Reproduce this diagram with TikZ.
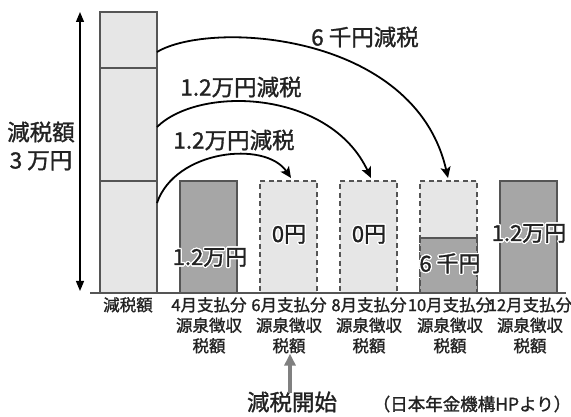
\documentclass[tikz,border=0pt]{standalone}
\usepackage{fontspec}
\usepackage[copies]{contour}
\contourlength{1.2pt}
\contournumber{24}
\setmainfont{Noto Sans CJK JP}
\newfontfamily\medfont{Noto Sans CJK JP}[FakeBold=1.3]
\usetikzlibrary{arrows.meta}
\definecolor{lightfill}{HTML}{E6E6E6}
\definecolor{darkfill}{HTML}{A6A6A6}
\definecolor{edge}{HTML}{555555}
\definecolor{txt}{HTML}{222222}
\tikzset{
  barbox/.style={draw=edge, line width=1.1pt, inner sep=0pt, outer sep=0pt,
    minimum width=57pt, anchor=south west},
  lightbar/.style={barbox, fill=lightfill},
  darkbar/.style={barbox, fill=darkfill},
  dashbar/.style={barbox, fill=lightfill, dash pattern=on 5pt off 3.5pt},
  curvearrow/.style={line width=1.8pt, -{Stealth[length=11pt,width=10pt,inset=2.5pt]}},
  arrowlbl/.style={text=txt, font=\medfont\fontsize{22.5}{26}\selectfont, inner sep=0pt},
  barlbl/.style={text=txt, font=\medfont\fontsize{22}{26}\selectfont, inner sep=0pt},
  axislbl/.style={text=txt, font=\medfont\fontsize{16.5}{20.5}\selectfont, align=center, inner sep=0pt, anchor=north},
}
\begin{document}
\begin{tikzpicture}[x=1pt,y=-1pt]
\useasboundingbox (0,0) rectangle (571,417);
% big bar
\node[lightbar, minimum height=56pt]  (s1) at (100,68) {};
\node[lightbar, minimum height=113pt] (s2) at (100,181) {};
\node[lightbar, minimum height=112pt] (s3) at (100,293) {};
% other bars
\node[darkbar, minimum height=112pt] (b1) at (180,293) {};
\node[dashbar, minimum height=112pt] (b2) at (260,293) {};
\node[dashbar, minimum height=112pt] (b3) at (340,293) {};
\node[dashbar, minimum height=112pt] (b4) at (420,293) {};
\node[darkbar, draw=none, minimum height=55pt] (b4d) at (420,293) {};
\draw[edge, line width=1.1pt] (b4d.north west) -- (b4d.north east);
\draw[edge, line width=1.1pt, dash pattern=on 5pt off 3.5pt] (b4d.north west) -- (b4d.south west) (b4d.north east) -- (b4d.south east);
\node[darkbar, minimum height=112pt] (b5) at (500,293) {};
% baseline
\coordinate (bl) at (90,293);
\coordinate (br) at (566,293);
\draw[edge, line width=1.4pt] (bl) -- (br);
% double arrow
\coordinate (dt) at (80,12);
\coordinate (db) at (80,291);
\draw[line width=1.2pt, {Triangle[length=10pt,width=8pt]}-{Triangle[length=10pt,width=8pt]}] (dt) -- (db);
\node[text=txt, font=\medfont\fontsize{22.5}{28}\selectfont, align=center, inner sep=0pt] (tot) at (41,146) {減税額\\3 万円};
% in-bar labels
\node[barlbl] (l1) at (210,258) {\contour{white}{1.2万円}};
\node[barlbl] (l2) at (289,235) {\contour{white}{0円}};
\node[barlbl] (l3) at (369,235) {\contour{white}{0円}};
\node[barlbl] (l4) at (450,264) {\contour{white}{6 千円}};
\node[barlbl] (l5) at (529,234) {\contour{white}{1.2万円}};
% curved arrows
\coordinate (a1s) at (157,203);
\coordinate (a1e) at (291,178);
\coordinate (a2s) at (157,127);
\coordinate (a2e) at (371,178);
\coordinate (a3s) at (157,52);
\coordinate (a3e) at (448,178);
\draw[curvearrow] (a1s) .. controls (175,150) and (265,140) .. (a1e);
\draw[curvearrow] (a2s) .. controls (200,85) and (330,90) .. (a2e);
\draw[curvearrow] (a3s) .. controls (210,20) and (415,32) .. (a3e);
\node[arrowlbl] (t3) at (365,37) {6 千円減税};
\node[arrowlbl] (t2) at (241,87) {1.2万円減税};
\node[arrowlbl] (t1) at (234,140) {1.2万円減税};
% axis labels
\node[axislbl] (x0) at (128,297) {減税額};
\node[axislbl] (x1) at (209,297) {4月支払分\\源泉徴収\\税額};
\node[axislbl] (x2) at (289,297) {6月支払分\\源泉徴収\\税額};
\node[axislbl] (x3) at (369,297) {8月支払分\\源泉徴収\\税額};
\node[axislbl] (x4) at (450,297) {10月支払分\\源泉徴収\\税額};
\node[axislbl] (x5) at (530,297) {12月支払分\\源泉徴収\\税額};
% start marker
\node[text=txt, font=\medfont\fontsize{22.5}{26}\selectfont, inner sep=0pt] (start) at (292,402) {減税開始};
\draw[color=gray, line width=4pt, -{Triangle[length=12pt,width=11pt]}] (start.north) ++(-2pt,-2pt) coordinate (ua) -- (ua |- x2.south) ;
\node[text=txt, font=\medfont\fontsize{17.5}{20}\selectfont, inner sep=0pt] (src) at (472,404) {（日本年金機構HPより）};
\end{tikzpicture}
\end{document}
